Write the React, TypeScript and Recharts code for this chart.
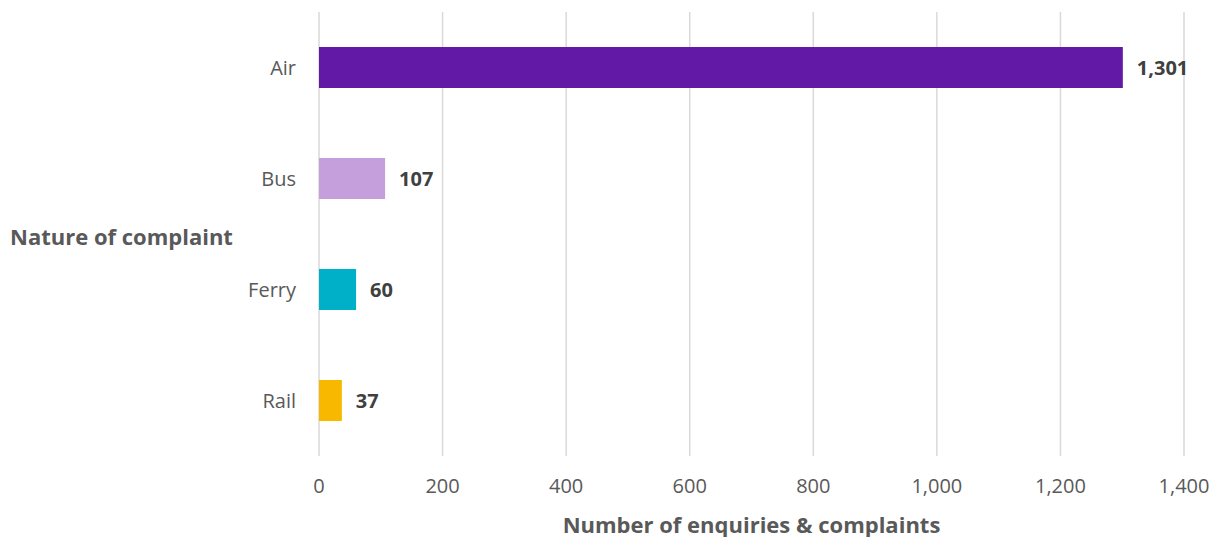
import { BarChart, Bar, XAxis, YAxis, CartesianGrid, Cell, LabelList } from 'recharts'

const categories = ['Air', 'Bus', 'Ferry', 'Rail']
const counts = [1301, 107, 60, 37]
const xTicks = [0, 200, 400, 600, 800, 1000, 1200, 1400]

const palette = ['#621AA6', '#C59FDB', '#00AFC8', '#F9B800']

const fmt = (v: number) => v.toLocaleString('en-US')

export default function App() {
  const data = categories.map((c, i) => ({ name: c, value: counts[i] }))

  return (
    <div style={{ position: 'absolute', left: 0, top: 0, fontFamily: '"Open Sans", sans-serif' }}>
      <BarChart
        width={1223}
        height={537}
        layout="vertical"
        data={data}
        margin={{ top: 12, right: 39, bottom: 0, left: 0 }}
        barCategoryGap={0}
      >
        <CartesianGrid horizontal={false} stroke="#d9d9d9" strokeWidth={1.5} />
        <XAxis
          type="number"
          domain={[0, 1400]}
          ticks={xTicks}
          tickFormatter={fmt}
          axisLine={false}
          tickLine={false}
          tickSize={0}
          tickMargin={23}
          height={81}
          tick={{ fontSize: 20, fill: '#595959' }}
          label={{
            value: 'Number of enquiries & complaints',
            position: 'insideBottom',
            offset: 4,
            style: { fontSize: 22, fontWeight: 700, fill: '#595959' },
          }}
        />
        <YAxis
          type="category"
          dataKey="name"
          width={319}
          axisLine={false}
          tickLine={false}
          tickSize={0}
          tickMargin={23}
          tick={{ fontSize: 20, fill: '#595959' }}
          label={{
            value: 'Nature of complaint',
            position: 'insideLeft',
            offset: 10,
            dy: 3,
            style: { fontSize: 22, fontWeight: 700, fill: '#595959', textAnchor: 'start' },
          }}
        />
        <Bar dataKey="value" barSize={41} isAnimationActive={false}>
          {data.map((d, i) => (
            <Cell key={d.name} fill={palette[i]} />
          ))}
          <LabelList
            dataKey="value"
            position="right"
            offset={14}
            formatter={(v: number) => fmt(v)}
            style={{ fontSize: 20, fontWeight: 700, fill: '#404040' }}
          />
        </Bar>
      </BarChart>
    </div>
  )
}
